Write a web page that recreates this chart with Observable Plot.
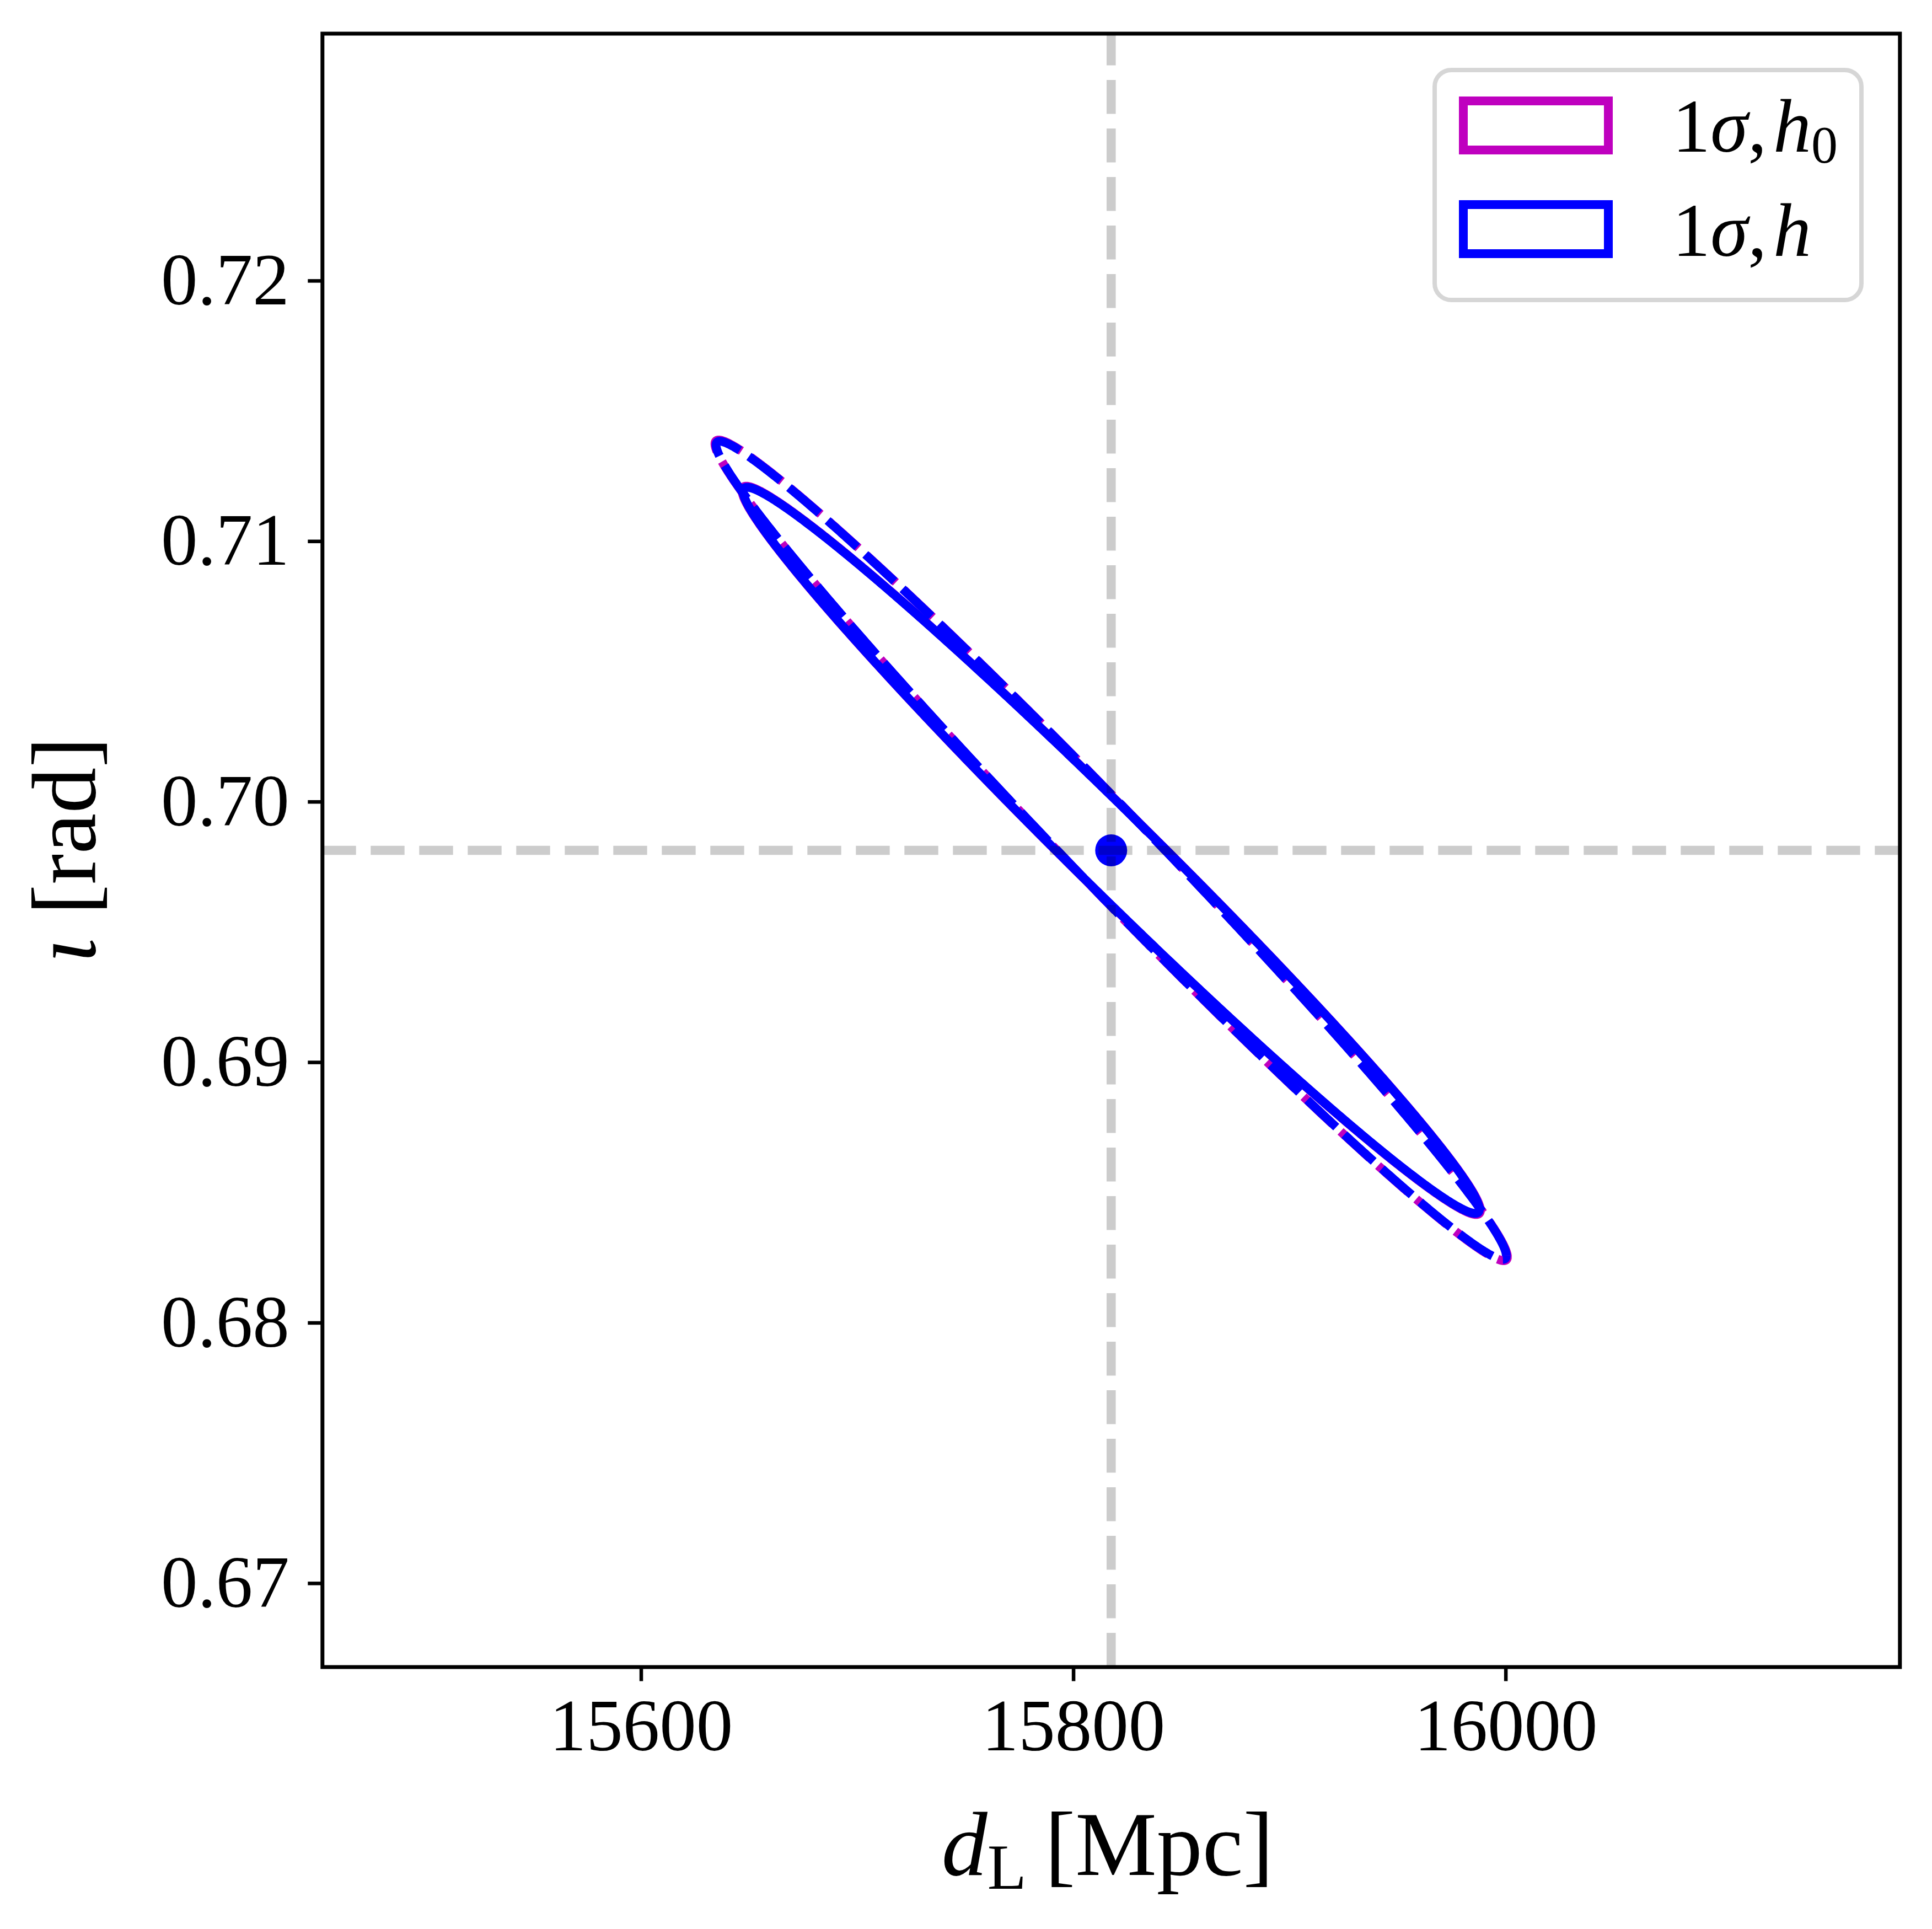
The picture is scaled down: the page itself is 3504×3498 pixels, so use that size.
<!DOCTYPE html>
<html>
<head>
<meta charset="utf-8">
<script src="https://cdn.jsdelivr.net/npm/d3@7"></script>
<script src="https://cdn.jsdelivr.net/npm/@observablehq/plot@0.6"></script>
<style>
  html, body { margin: 0; padding: 0; background: #ffffff; }
  #chart { position: relative; width: 3504px; height: 3498px; }
</style>
</head>
<body>
<div id="chart"></div>
<script>
// ---------------- data ----------------
const trueDL = 15817.4;          // Mpc (true luminosity distance)
const trueIota = 0.698141;       // rad (true inclination)
const xDomain = [15452.5, 16182.3];
const yDomain = [0.666790, 0.729492];
const xTicks = [15600, 15800, 16000];
const yTicks = [0.67, 0.68, 0.69, 0.70, 0.71, 0.72];

// 1-sigma ellipses (center, sigma_dL, sigma_iota, correlation)
const ellipseSeries   = ["1σ, h0", "1σ, h0", "1σ, h", "1σ, h"];
const ellipseStyle    = ["dashed", "solid", "dashed", "solid"];
const ellipseColor    = ["#bf00bf", "#bf00bf", "#0000ff", "#0000ff"];
const ellipseCenterDL = [15817.4, 15817.4, 15817.4, 15817.4];
const ellipseCenterIo = [0.698141, 0.698141, 0.698141, 0.698141];
const ellipseSigmaDL  = [183.3, 170.8, 182.8, 170.3];
const ellipseSigmaIo  = [0.015750, 0.013978, 0.015703, 0.013936];
const ellipseRho      = [-0.99061, -0.98861, -0.99061, -0.98861];

const legendLabels = ["1σ, h0", "1σ, h"];
const legendColors = ["#bf00bf", "#0000ff"];

// ---------------- build ellipse outlines ----------------
function outline(i) {
  const pts = [];
  const s = Math.sqrt(1 - ellipseRho[i] * ellipseRho[i]);
  const N = 1440;
  for (let k = 0; k <= N; k++) {
    const t = 2 * Math.PI * k / N;
    pts.push({
      dL: ellipseCenterDL[i] + ellipseSigmaDL[i] * Math.cos(t),
      iota: ellipseCenterIo[i] + ellipseSigmaIo[i] * (ellipseRho[i] * Math.cos(t) + s * Math.sin(t))
    });
  }
  return pts;
}

const ellipseMarks = ellipseSeries.map((_, i) => Plot.line(outline(i), {
  x: "dL", y: "iota",
  stroke: ellipseColor[i],
  strokeWidth: 16,
  strokeLinejoin: "round",
  strokeLinecap: "butt",
  strokeDasharray: ellipseStyle[i] === "dashed" ? "72,20" : null
}));

const W = 3504, H = 3498;
const ML = 584.3, MR = 58.7, MT = 60.5, MB = 475.5;

const plot = Plot.plot({
  width: W, height: H,
  marginLeft: ML, marginRight: MR, marginTop: MT, marginBottom: MB,
  style: { fontFamily: "'Liberation Serif', 'Times New Roman', serif", background: "white", color: "black", overflow: "visible" },
  x: { domain: xDomain },
  y: { domain: yDomain },
  marks: [
    ...ellipseMarks,
    Plot.dot([{ dL: trueDL, iota: trueIota }], { x: "dL", y: "iota", r: 29, fill: "#0000ff", stroke: "none" }),
    Plot.ruleX([trueDL], { x: d => d, y1: () => yDomain[0], y2: () => yDomain[1], stroke: "black", strokeOpacity: 0.2, strokeWidth: 16.6, strokeDasharray: "61.4,26.6" }),
    Plot.ruleY([trueIota], { y: d => d, x1: () => xDomain[0], x2: () => xDomain[1], stroke: "black", strokeOpacity: 0.2, strokeWidth: 16.6, strokeDasharray: "61.4,26.6" }),
    Plot.axisX({ ticks: xTicks, tickFormat: d3.format("d"), tickSize: 26, tickPadding: 31, fontSize: 133, strokeWidth: 6.5, label: null }),
    Plot.axisY({ ticks: yTicks, tickFormat: d3.format(".2f"), tickSize: 26, tickPadding: 34, fontSize: 133, strokeWidth: 6.5, label: null }),
    Plot.frame({ stroke: "black", strokeWidth: 7 })
  ]
});

document.getElementById("chart").appendChild(plot);

const svg = d3.select(plot);
const FF = "'Liberation Serif', 'Times New Roman', serif";

// x axis label: d_L [Mpc]
const xl = svg.append("text")
  .attr("x", (ML + (W - MR)) / 2 - 6)
  .attr("y", 3400)
  .attr("text-anchor", "middle")
  .attr("font-family", FF)
  .attr("font-size", 166)
  .attr("fill", "black");
xl.append("tspan").attr("font-style", "italic").text("d");
xl.append("tspan").attr("font-size", 116).attr("dy", 25).text("L");
xl.append("tspan").attr("dy", -25).text("\u2009[Mpc]");

// y axis label: iota [rad]
const yl = svg.append("text")
  .attr("transform", `translate(172,${(MT + (H - MB)) / 2}) rotate(-90)`)
  .attr("text-anchor", "middle")
  .attr("font-family", FF)
  .attr("font-size", 166)
  .attr("fill", "black");
yl.append("tspan").attr("font-style", "italic").text("ι");
yl.append("tspan").text(" [rad]");

// legend
const lg = svg.append("g");
lg.append("rect")
  .attr("x", 2602).attr("y", 127).attr("width", 774).attr("height", 417)
  .attr("rx", 30).attr("ry", 30)
  .attr("fill", "white").attr("fill-opacity", 0.8)
  .attr("stroke", "#cccccc").attr("stroke-opacity", 0.8).attr("stroke-width", 8);
const rowY = [175, 363];
const baseY = [275, 464];
legendLabels.forEach((lab, i) => {
  lg.append("rect")
    .attr("x", 2654).attr("y", rowY[i] + 8).attr("width", 263).attr("height", 89)
    .attr("fill", "none").attr("stroke", legendColors[i]).attr("stroke-width", 16);
  const t = lg.append("text")
    .attr("x", 3033).attr("y", baseY[i])
    .attr("text-anchor", "start")
    .attr("font-family", FF).attr("font-size", 138).attr("fill", "black");
  t.append("tspan").text("1");
  t.append("tspan").attr("font-style", "italic").text("σ");
  t.append("tspan").text(",\u200A");
  t.append("tspan").attr("font-style", "italic").text("h");
  if (lab.endsWith("0")) {
    t.append("tspan").attr("font-size", 96).attr("dy", 20).text("0");
  }
});
</script>
</body>
</html>
